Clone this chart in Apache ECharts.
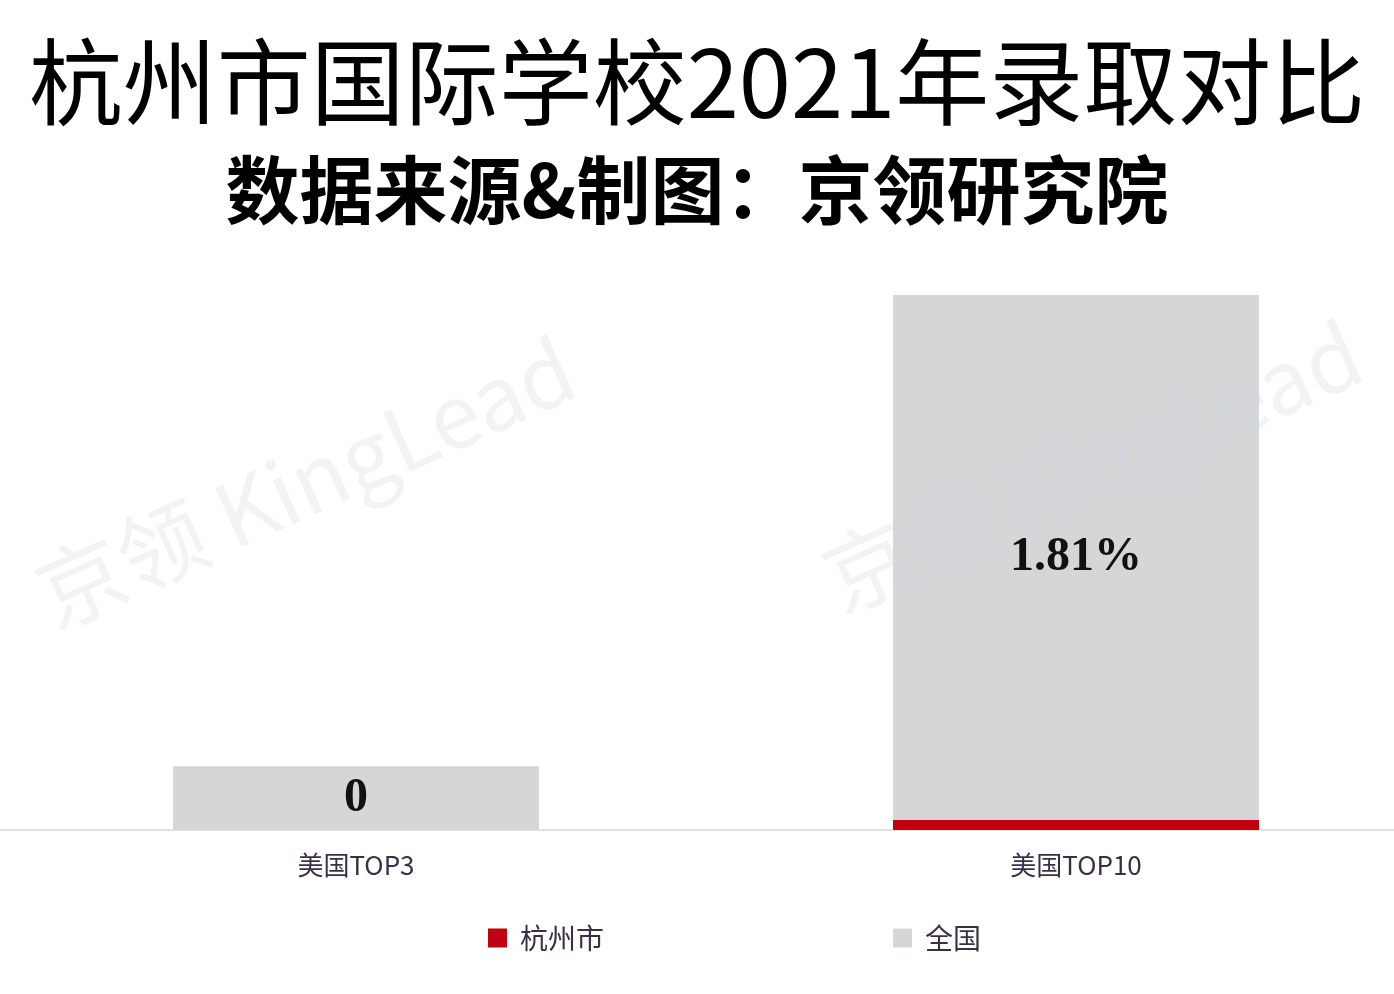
<!DOCTYPE html>
<html>
<head>
<meta charset="utf-8">
<script src="https://cdn.jsdelivr.net/npm/echarts@6/dist/echarts.min.js"></script>
<style>
html,body{margin:0;padding:0;background:#fff;}
#main{width:1394px;height:994px;}
</style>
</head>
<body>
<div id="main"></div>
<script>
var categories = ['美国TOP3', '美国TOP10'];
var seriesNames = ['杭州市', '全国'];
var hangzhouValues = [0, 0.035];
var nationalValues = [0.22, 1.81];
var nationalLabels = ['0', '1.81%'];

var chart = echarts.init(document.getElementById('main'));
var cjk = '"Noto Sans CJK SC", "Noto Sans", sans-serif';
var option = {
  backgroundColor: '#ffffff',
  animation: false,
  title: [
    {
      text: '杭州市国际学校2021年录取对比',
      left: 'center', top: 30,
      textStyle: {fontSize: 94, fontWeight: 'normal', color: '#000', fontFamily: cjk}
    },
    {
      text: '数据来源&制图：京领研究院',
      left: 'center', top: 148,
      textStyle: {fontSize: 74, fontWeight: 'bold', color: '#000', fontFamily: cjk}
    }
  ],
  legend: {
    left: 488, top: 924,
    padding: 0,
    itemWidth: 19, itemHeight: 19, itemGap: 289,
    icon: 'rect',
    data: seriesNames,
    textStyle: {fontSize: 28, color: '#3b2f45', fontFamily: cjk, padding: [0, 0, 0, 8]}
  },
  grid: {left: -4, width: 1440, top: 295, bottom: 164, containLabel: false, outerBoundsMode: 'none'},
  xAxis: {
    type: 'category',
    data: categories,
    axisLine: {show: true, lineStyle: {color: '#d8d8dc', width: 1.5}},
    axisTick: {show: false},
    axisLabel: {fontSize: 26, color: '#3b2f45', margin: 22, fontFamily: cjk}
  },
  yAxis: {
    type: 'value',
    min: 0,
    max: hangzhouValues[1] + nationalValues[1],
    show: false,
    splitLine: {show: false}
  },
  series: [
    {
      name: seriesNames[0], type: 'bar', stack: 'a',
      barWidth: 366,
      data: hangzhouValues,
      itemStyle: {color: '#c00010'}
    },
    {
      name: seriesNames[1], type: 'bar', stack: 'a',
      barWidth: 366,
      data: nationalValues,
      itemStyle: {color: '#d5d6d8'},
      label: {
        show: true, position: 'inside',
        formatter: function (p) { return nationalLabels[p.dataIndex]; },
        fontSize: 48, fontWeight: 'bold', color: '#111',
        fontFamily: '"Liberation Serif", "DejaVu Serif", serif'
      }
    }
  ],
  graphic: [
    {
      type: 'text', x: 305, y: 482, rotation: 0.42, z: 100, silent: true,
      style: {text: '京领 KingLead', fontSize: 88, fill: 'rgba(210,214,222,0.3)', textAlign: 'center', textVerticalAlign: 'middle', fontFamily: cjk}
    },
    {
      type: 'text', x: 1092, y: 466, rotation: 0.42, z: 100, silent: true,
      style: {text: '京领 KingLead', fontSize: 88, fill: 'rgba(210,214,222,0.3)', textAlign: 'center', textVerticalAlign: 'middle', fontFamily: cjk}
    }
  ]
};
chart.setOption(option);
</script>
</body>
</html>
